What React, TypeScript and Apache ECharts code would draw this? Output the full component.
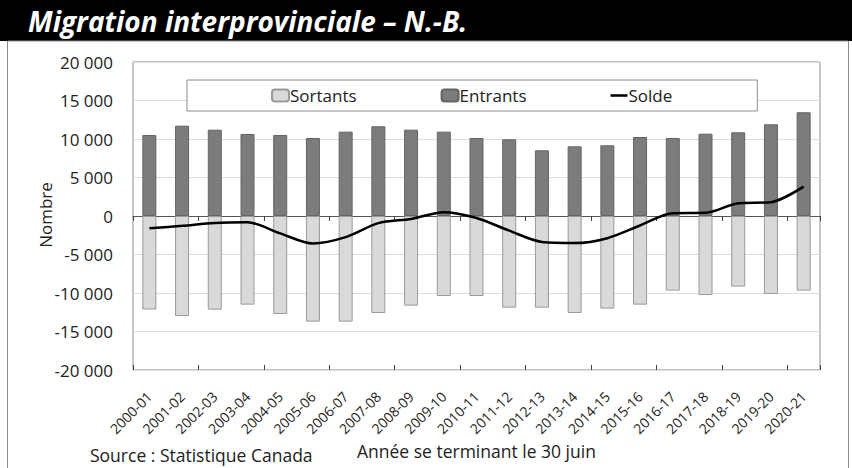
import React, { useEffect, useRef } from "react";
import * as echarts from "echarts";

const categories = [
  "2000-01", "2001-02", "2002-03", "2003-04", "2004-05", "2005-06", "2006-07",
  "2007-08", "2008-09", "2009-10", "2010-11", "2011-12", "2012-13", "2013-14",
  "2014-15", "2015-16", "2016-17", "2017-18", "2018-19", "2019-20", "2020-21",
];
const sortants = [
  -12150, -12990, -12160, -11510, -12730, -13720, -13720, -12600, -11640, -10390, -10390,
  -11900, -11900, -12600, -12030, -11510, -9690, -10260, -9170, -10130, -9690,
];
const entrants = [
  10520, 11730, 11210, 10650, 10520, 10130, 10950, 11650, 11210, 10950, 10130,
  9960, 8530, 9050, 9180, 10260, 10130, 10690, 10870, 11910, 13470,
];
const solde = [
  -1600, -1280, -900, -820, -2250, -3570, -2750, -930, -380, 500, -260,
  -1900, -3370, -3520, -2880, -1230, 370, 410, 1650, 1800, 3820,
];
const yTicks = [-20000, -15000, -10000, -5000, 0, 5000, 10000, 15000, 20000];

const fmt = (v: number) => {
  const s = Math.abs(v).toString().replace(/\B(?=(\d{3})+(?!\d))/g, " ");
  return (v < 0 ? "-" : "") + s;
};

const FONT = "'Open Sans', 'Noto Sans', sans-serif";

export default function App() {
  const ref = useRef<HTMLDivElement>(null);
  useEffect(() => {
    if (!ref.current) return;
    const chart = echarts.init(ref.current, undefined, { renderer: "svg" });
    const xBase = {
      type: "category" as const,
      data: categories,
      boundaryGap: true,
    };
    chart.setOption({
      animation: false,
      backgroundColor: "#ffffff",
      textStyle: { fontFamily: FONT },
      grid: {
        left: 133,
        right: 32,
        top: 62,
        bottom: 98,
        show: true,
        borderColor: "#8c8c8c",
        borderWidth: 1,
        backgroundColor: "transparent",
      },
      legend: {
        left: 187,
        top: 80,
        padding: [7, 85, 7, 84],
        backgroundColor: "#ffffff",
        borderColor: "#8c8c8c",
        borderWidth: 1,
        borderRadius: 0,
        itemGap: 84,
        itemWidth: 17,
        itemHeight: 12,
        textStyle: { fontSize: 17, color: "#222", fontFamily: FONT, padding: [0, 0, 0, -4] },
        data: [
          "Sortants",
          "Entrants",
          { name: "Solde", icon: "path://M0,0H20V3H0Z" },
        ],
      },
      xAxis: [
        {
          ...xBase,
          position: "bottom",
          axisLine: { show: false, onZero: false },
          axisTick: { show: false },
          axisLabel: {
            rotate: 45,
            fontSize: 14,
            color: "#222",
            fontFamily: FONT,
            margin: 24,
            interval: 0,
          },
        },
        {
          ...xBase,
          position: "bottom",
          axisLine: { show: true, onZero: true, lineStyle: { color: "#555", width: 1 } },
          axisTick: { show: true, length: 5, lineStyle: { color: "#444" } },
          axisLabel: { show: false },
        },
        {
          ...xBase,
          position: "bottom",
          axisLine: { show: false, onZero: true },
          axisTick: { show: true, inside: true, length: 5, lineStyle: { color: "#444" } },
          axisLabel: { show: false },
        },
      ],
      yAxis: {
        type: "value",
        min: -20000,
        max: 20000,
        interval: 5000,
        axisLine: { show: false },
        axisTick: { show: false },
        axisLabel: {
          fontSize: 17,
          color: "#222",
          fontFamily: FONT,
          margin: 20,
          formatter: (v: number) => (yTicks.includes(v) ? fmt(v) : ""),
        },
        splitLine: { show: true, lineStyle: { color: "#dcdcdc", width: 1 } },
      },
      series: [
        {
          name: "Sortants",
          type: "bar",
          xAxisIndex: 0,
          stack: "m",
          barWidth: 14,
          data: sortants,
          itemStyle: { color: "#d9d9d9", borderColor: "#9a9a9a", borderWidth: 1 },
        },
        {
          name: "Entrants",
          type: "bar",
          xAxisIndex: 0,
          stack: "m",
          barWidth: 14,
          data: entrants,
          itemStyle: { color: "#7c7c7c", borderColor: "#646464", borderWidth: 1 },
        },
        {
          name: "Solde",
          type: "line",
          xAxisIndex: 0,
          data: solde,
          symbol: "none",
          smooth: 0.3,
          z: 5,
          lineStyle: { color: "#000000", width: 2.5 },
          itemStyle: { color: "#000000" },
        },
      ],
      graphic: [
        {
          type: "rect",
          shape: { x: 0, y: 0, width: 852, height: 41 },
          style: { fill: "#000000" },
          silent: true,
        },
        {
          type: "rect",
          shape: { x: 7.5, y: 41, width: 841, height: 440 },
          style: { fill: "none", stroke: "#8c8c8c", lineWidth: 1 },
          silent: true,
        },
        {
          type: "text",
          x: 28,
          y: 21,
          style: {
            text: "Migration interprovinciale – N.-B.",
            fill: "#ffffff",
            font: "italic bold 28px 'Open Sans', sans-serif",
            textVerticalAlign: "middle",
          },
          silent: true,
        },
        {
          type: "text",
          x: 45,
          y: 215,
          rotation: Math.PI / 2,
          style: {
            text: "Nombre",
            fill: "#222",
            font: "17px 'Open Sans', sans-serif",
            textAlign: "center",
            textVerticalAlign: "middle",
          },
          silent: true,
        },
        {
          type: "text",
          x: 90,
          y: 455,
          style: {
            text: "Source : Statistique Canada",
            fill: "#222",
            font: "17.5px 'Open Sans', sans-serif",
            textVerticalAlign: "middle",
          },
          silent: true,
        },
        {
          type: "text",
          x: 357,
          y: 451,
          style: {
            text: "Année se terminant le 30 juin",
            fill: "#222",
            font: "17.5px 'Open Sans', sans-serif",
            textVerticalAlign: "middle",
          },
          silent: true,
        },
      ],
    });
    return () => chart.dispose();
  }, []);
  return (
    <div
      ref={ref}
      style={{ position: "fixed", left: 0, top: 0, width: 852, height: 468 }}
    />
  );
}
